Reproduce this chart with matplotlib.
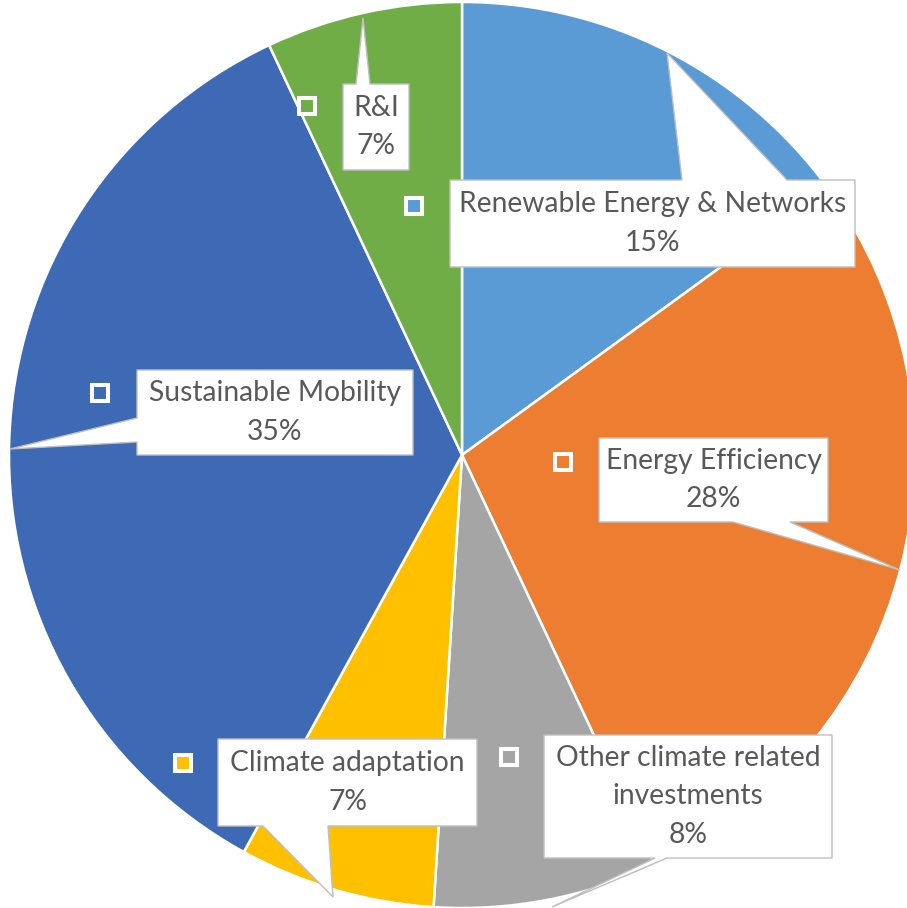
import matplotlib
matplotlib.use('Agg')
import matplotlib.pyplot as plt
from matplotlib.patches import Polygon, Rectangle

# Data
labels = ['Renewable Energy & Networks', 'Energy Efficiency',
          'Other climate related\ninvestments', 'Climate adaptation',
          'Sustainable Mobility', 'R&I']
shares = [15, 28, 8, 7, 35, 7]
colors = ['#5B9BD5', '#ED7D31', '#A5A5A5', '#FFC000', '#3D69B5', '#70AD47']

W, H = 907, 908

# Callout layout in pixel coords (origin top-left):
# box (x0, y0, x1, y1), pointer side, pointer base (a, b), pointer tip, key square centre
callouts = [
    ((450, 180, 855, 267), 'top', (682, 787), (667, 53), (414, 206)),
    ((599, 438, 828, 522), 'bottom', (733, 790), (900, 570), (563, 462)),
    ((544, 735, 832, 858), 'bottom', (655, 667), (552, 907), (509, 757)),
    ((218, 739, 477, 826), 'bottom', (263, 328), (333, 897), (183, 763)),
    ((137, 370, 413, 455), 'left', (418, 442), (10, 449), (100, 393)),
    ((343, 84, 409, 170), 'top', (356, 370), (363, 18), (307, 106)),
]


def fy(y):
    return H - y


def callout_vertices(box, side, base, tip):
    x0, y0, x1, y1 = box
    a, b = base
    pts = [(x0, y0)]
    if side == 'top':
        pts += [(a, y0), tip, (b, y0)]
    pts.append((x1, y0))
    pts.append((x1, y1))
    if side == 'bottom':
        pts += [(b, y1), tip, (a, y1)]
    pts.append((x0, y1))
    if side == 'left':
        pts += [(x0, b), tip, (x0, a)]
    return [(x, fy(y)) for x, y in pts]


fig = plt.figure(figsize=(9.07, 9.08), dpi=100)
ax = fig.add_axes([0, 0, 1, 1])

ax.pie(shares, colors=colors, startangle=90, counterclock=False,
       center=(462, fy(455)), radius=453,
       wedgeprops=dict(edgecolor='white', linewidth=1.8))

ax.set_xlim(0, W)
ax.set_ylim(0, H)
ax.set_aspect('auto')
ax.axis('off')

for (box, side, base, tip, key), lab, val, col in zip(callouts, labels, shares, colors):
    poly = Polygon(callout_vertices(box, side, base, tip), closed=True,
                   facecolor='white', edgecolor='#BFBFBF', linewidth=1.0, zorder=5)
    ax.add_patch(poly)
    x0, y0, x1, y1 = box
    ax.text((x0 + x1) / 2, fy((y0 + y1) / 2), f'{lab}\n{val}%',
            ha='center', va='center', fontsize=20.3, color='#595959',
            family=['Lato', 'DejaVu Sans'], linespacing=1.58, zorder=6)
    s = 16
    ax.add_patch(Rectangle((key[0] - s / 2, fy(key[1]) - s / 2), s, s,
                           facecolor=col, edgecolor='white', linewidth=2.9, zorder=6))

fig.savefig('out.png', dpi=100, facecolor='white')
